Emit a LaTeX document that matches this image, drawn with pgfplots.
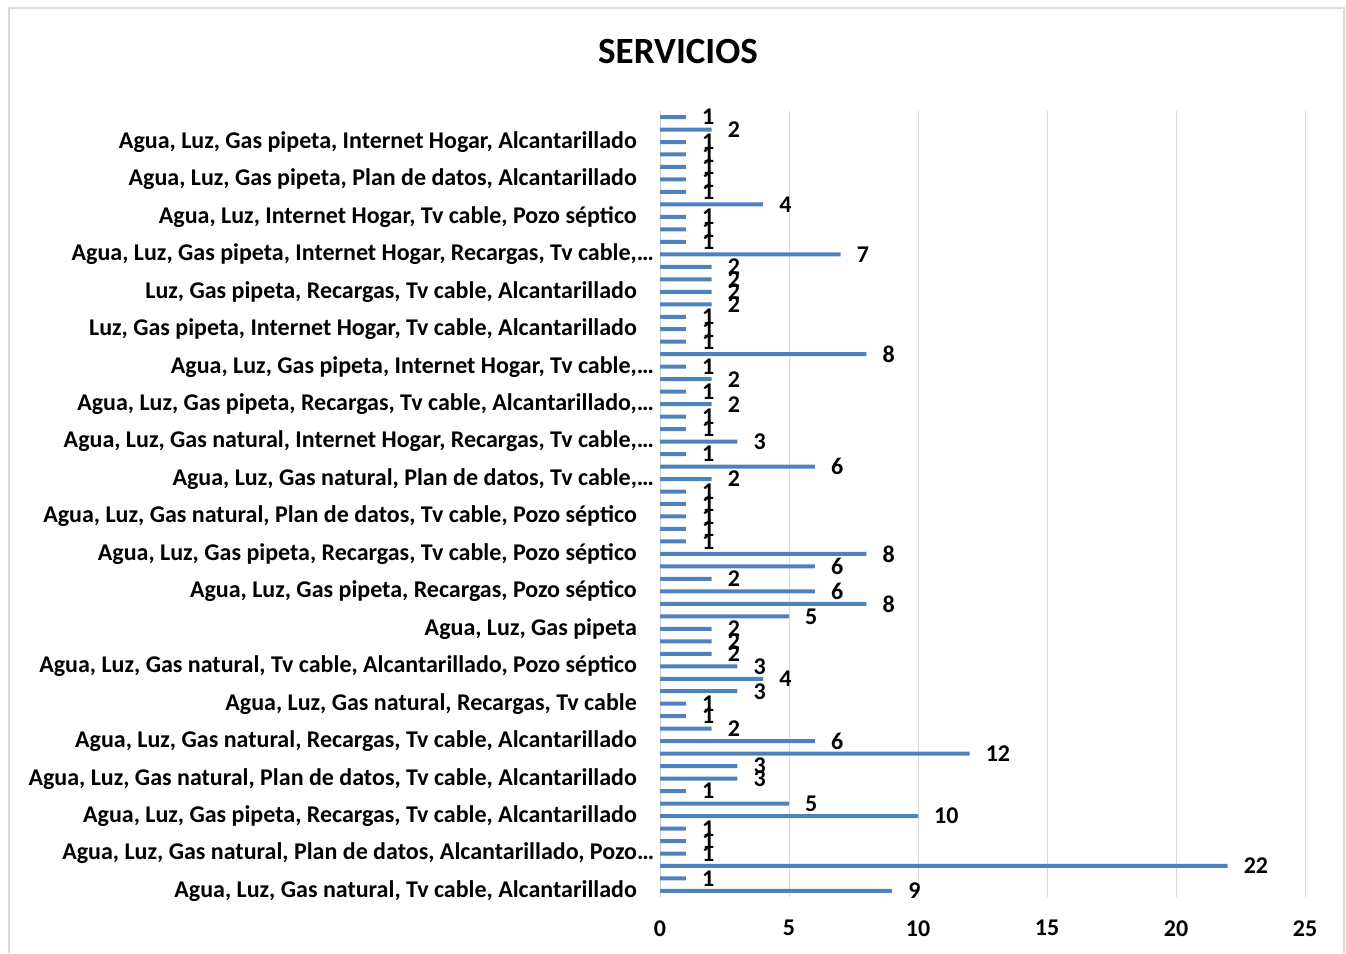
\documentclass[border=0pt]{standalone}
\usepackage{pgfplots}
\pgfplotsset{compat=1.18}
\usepackage{pgfplotstable}
\usepackage{fontspec}
\setmainfont{Carlito}
\definecolor{barblue}{HTML}{4F81BD}
\pgfplotstableread{
y v
0 9
1 1
2 22
3 1
4 1
5 1
6 10
7 5
8 1
9 3
10 3
11 12
12 6
13 2
14 1
15 1
16 3
17 4
18 3
19 2
20 2
21 2
22 5
23 8
24 6
25 2
26 6
27 8
28 1
29 1
30 1
31 1
32 1
33 2
34 6
35 1
36 3
37 1
38 1
39 2
40 1
41 2
42 1
43 8
44 1
45 1
46 1
47 2
48 2
49 2
50 2
51 7
52 1
53 1
54 1
55 4
56 1
57 1
58 1
59 1
60 1
61 2
62 1
}\datatable
\newcommand{\lbl}{\bfseries\fontsize{24}{24}\selectfont}
\newcommand{\elli}{\rlap{…}}
\begin{document}
\begin{tikzpicture}[x=1pt,y=1pt]
\useasboundingbox (0,0) rectangle (1346,953);
\draw[gray!30, line width=1.5pt] (9,0) -- (9,945) -- (1344,945) -- (1344,0);
\node[font=\bfseries\fontsize{37}{37}\selectfont] at (678,901) {SERVICIOS};
\begin{axis}[
  at={(660pt,55.8pt)}, anchor=south west,
  scale only axis, width=645pt, height=786.4pt,
  xbar, bar width=4pt,
  xmin=0, xmax=25, ymin=-0.5, ymax=62.5,
  xtick={0,5,...,25},
  ytick={0,3,...,60},
  yticklabels={
    {Agua, Luz, Gas natural, Tv cable, Alcantarillado},
    {Agua, Luz, Gas natural, Plan de datos, Alcantarillado, Pozo\elli},
    {Agua, Luz, Gas pipeta, Recargas, Tv cable, Alcantarillado},
    {Agua, Luz, Gas natural, Plan de datos, Tv cable, Alcantarillado},
    {Agua, Luz, Gas natural, Recargas, Tv cable, Alcantarillado},
    {Agua, Luz, Gas natural, Recargas, Tv cable},
    {Agua, Luz, Gas natural, Tv cable, Alcantarillado, Pozo séptico},
    {Agua, Luz, Gas pipeta},
    {Agua, Luz, Gas pipeta, Recargas, Pozo séptico},
    {Agua, Luz, Gas pipeta, Recargas, Tv cable, Pozo séptico},
    {Agua, Luz, Gas natural, Plan de datos, Tv cable, Pozo séptico},
    {Agua, Luz, Gas natural, Plan de datos, Tv cable,\elli},
    {Agua, Luz, Gas natural, Internet Hogar, Recargas, Tv cable,\elli},
    {Agua, Luz, Gas pipeta, Recargas, Tv cable, Alcantarillado,\elli},
    {Agua, Luz, Gas pipeta, Internet Hogar, Tv cable,\elli},
    {Luz, Gas pipeta, Internet Hogar, Tv cable, Alcantarillado},
    {Luz, Gas pipeta, Recargas, Tv cable, Alcantarillado},
    {Agua, Luz, Gas pipeta, Internet Hogar, Recargas, Tv cable,\elli},
    {Agua, Luz, Internet Hogar, Tv cable, Pozo séptico},
    {Agua, Luz, Gas pipeta, Plan de datos, Alcantarillado},
    {Agua, Luz, Gas pipeta, Internet Hogar, Alcantarillado}
  },
  /pgf/number format/assume math mode=true,
  ticklabel style={font=\lbl},
  yticklabel style={inner sep=0pt, xshift=-23pt},
  xticklabel style={inner sep=0pt, yshift=-23pt},
  major tick length=0pt,
  separate axis lines,
  axis x line*=bottom, x axis line style={draw=none},
  axis y line*=left, y axis line style={draw=gray!40, line width=1pt},
  xmajorgrids, grid style={gray!30, line width=1pt},
  nodes near coords,
  every node near coord/.append style={font=\lbl, anchor=west, inner sep=0pt, xshift=16pt},
]
\addplot[fill=barblue, draw=none] table[x=v, y=y] {\datatable};
\end{axis}
\end{tikzpicture}
\end{document}
